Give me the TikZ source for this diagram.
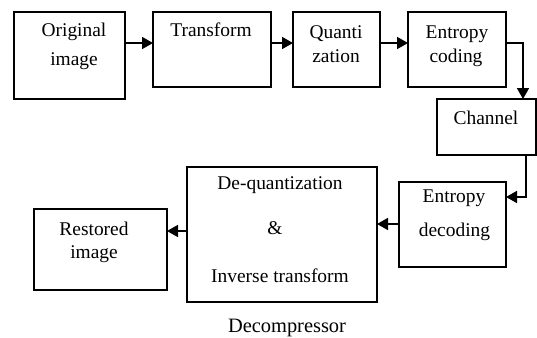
\documentclass[tikz,border=0pt]{standalone}
\usepackage{fontspec}
\setmainfont{Liberation Serif}
\usetikzlibrary{arrows.meta}
\begin{document}
\begin{tikzpicture}[x=1bp,y=-1bp,
  box/.style={draw=black,line width=1.7bp,rectangle,inner sep=0pt,outer sep=0pt},
  lbl/.style={anchor=mid,inner sep=0pt,font=\fontsize{19.5}{22}\selectfont},
  arr/.style={line width=1.7bp,-{Triangle[length=11bp,width=12bp]}}]
\useasboundingbox (0,0) rectangle (537,337);
% compressor chain
\node[box,minimum width=111bp,minimum height=87bp] (orig)  at (69.5,55.5) {};
\node[box,minimum width=118bp,minimum height=75bp] (trans) at (212,49.5) {};
\node[box,minimum width=87bp,minimum height=75bp]  (quant) at (336.5,49.5) {};
\node[box,minimum width=98bp,minimum height=75bp]  (enc)   at (457,49.5) {};
\node[box,minimum width=99bp,minimum height=56bp]  (chan)  at (486.5,127) {};
% decompressor chain
\node[box,minimum width=107bp,minimum height=85bp] (dec)   at (452.5,224.5) {};
\node[box,minimum width=190bp,minimum height=135bp] (deq)  at (282,234.5) {};
\node[box,minimum width=133bp,minimum height=81bp] (rest)  at (100.5,249.5) {};
% labels
\node[lbl] (t1a) at (74,34) {Original};
\node[lbl] (t1b) at (74,63) {image};
\node[lbl] (t2)  at (211,34) {Transform};
\node[lbl] (t3a) at (336,36) {Quanti};
\node[lbl] (t3b) at (336,60) {zation};
\node[lbl] (t4a) at (457,36) {Entropy};
\node[lbl] (t4b) at (456,60) {coding};
\node[lbl] (t5)  at (486,122) {Channel};
\node[lbl] (t6a) at (454,200) {Entropy};
\node[lbl] (t6b) at (454.5,234) {decoding};
\node[lbl] (t7a) at (280,187) {De-quantization};
\node[lbl] (t7b) at (275,232) {\&};
\node[lbl] (t7c) at (280,280) {Inverse transform};
\node[lbl] (t8a) at (94,233) {Restored};
\node[lbl] (t8b) at (94,256) {image};
\node[lbl,font=\fontsize{20.5}{23}\selectfont] (cap) at (287,330) {Decompressor};
% connectors
\draw[arr] (orig.east |- 0,43) -- (trans.west |- 0,43);
\draw[arr] (trans.east |- 0,43) -- (quant.west |- 0,43);
\draw[arr] (quant.east |- 0,43) -- (enc.west |- 0,43);
\draw[arr] (enc.east |- 0,43) -| (chan.north -| 523,0);
\draw[arr] (chan.south -| 526,0) |- (dec.east |- 0,197);
\draw[arr] (dec.west |- 0,224) -- (deq.east |- 0,224);
\draw[arr] (deq.west |- 0,231) -- (rest.east |- 0,231);
\end{tikzpicture}
\end{document}
